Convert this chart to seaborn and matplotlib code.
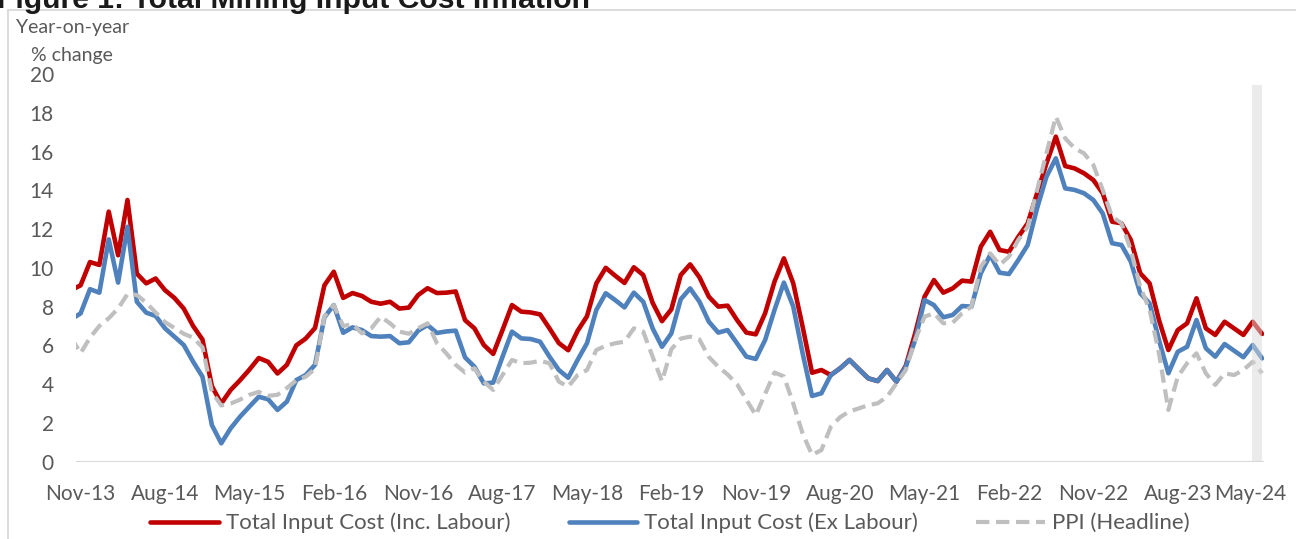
import numpy as np
import pandas as pd
import matplotlib
matplotlib.use("Agg")
import matplotlib.pyplot as plt
import matplotlib.transforms as mtransforms
from matplotlib.patches import Rectangle
import seaborn as sns

# ---------------- data (monthly, Oct-13 .. May-24) ----------------
months = pd.date_range("2013-10-01", periods=128, freq="MS")
tick_labels = ["Nov-13", "Aug-14", "May-15", "Feb-16", "Nov-16", "Aug-17", "May-18",
               "Feb-19", "Nov-19", "Aug-20", "May-21", "Feb-22", "Nov-22", "Aug-23", "May-24"]

inc_labour = [8.85, 9.1, 10.3, 10.15, 12.9, 10.65, 13.5, 9.7, 9.2, 9.45,
              8.85, 8.45, 7.9, 7.0, 6.3, 3.9, 3.0, 3.7, 4.2, 4.75,
              5.35, 5.15, 4.55, 5.0, 6.0, 6.35, 6.9, 9.1, 9.8, 8.45,
              8.7, 8.55, 8.25, 8.15, 8.25, 7.9, 7.95, 8.6, 8.95, 8.7,
              8.72, 8.78, 7.3, 6.88, 6.02, 5.56, 6.8, 8.08, 7.74, 7.7,
              7.6, 6.88, 6.12, 5.75, 6.75, 7.5, 9.2, 10.0, 9.6, 9.22,
              10.03, 9.63, 8.2, 7.25, 7.86, 9.63, 10.18, 9.51, 8.51, 8.0,
              8.05, 7.31, 6.66, 6.57, 7.66, 9.29, 10.49, 9.2, 6.96, 4.59,
              4.73, 4.47, 4.82, 5.25, 4.77, 4.3, 4.16, 4.73, 4.13, 4.95,
              6.62, 8.51, 9.37, 8.72, 8.94, 9.34, 9.29, 11.09, 11.86, 10.92,
              10.83, 11.6, 12.3, 13.85, 15.39, 16.77, 15.25, 15.13, 14.88, 14.53,
              13.85, 12.38, 12.3, 11.44, 9.72, 9.2, 7.31, 5.76, 6.79, 7.14,
              8.43, 6.88, 6.54, 7.22, 6.88, 6.54, 7.22, 6.59]

ex_labour = [7.35, 7.65, 8.9, 8.72, 11.47, 9.24, 12.12, 8.25, 7.69, 7.52,
             6.88, 6.45, 6.02, 5.16, 4.38, 1.89, 0.95, 1.72, 2.32, 2.84,
             3.35, 3.22, 2.67, 3.1, 4.21, 4.47, 5.0, 7.45, 8.08, 6.65,
             6.93, 6.79, 6.48, 6.45, 6.48, 6.11, 6.16, 6.76, 7.05, 6.64,
             6.72, 6.76, 5.38, 4.9, 4.04, 4.08, 5.42, 6.71, 6.36, 6.33,
             6.19, 5.42, 4.73, 4.33, 5.25, 6.11, 7.83, 8.69, 8.34, 7.96,
             8.72, 8.25, 6.88, 5.93, 6.62, 8.38, 8.94, 8.25, 7.22, 6.66,
             6.79, 6.11, 5.42, 5.3, 6.28, 7.83, 9.24, 8.0, 5.59, 3.39,
             3.53, 4.47, 4.82, 5.25, 4.77, 4.3, 4.16, 4.73, 4.13, 4.9,
             6.28, 8.34, 8.08, 7.45, 7.57, 8.03, 8.0, 9.72, 10.66, 9.75,
             9.68, 10.4, 11.18, 13.07, 14.7, 15.65, 14.1, 14.02, 13.85, 13.5,
             12.81, 11.27, 11.18, 10.32, 8.69, 8.17, 6.28, 4.56, 5.67, 5.93,
             7.31, 5.85, 5.42, 6.07, 5.73, 5.39, 6.02, 5.33]

ppi = [6.4, 5.6, 6.4, 7.0, 7.4, 7.9, 8.65, 8.6, 8.2, 7.7,
       7.2, 6.9, 6.6, 6.4, 5.9, 3.6, 2.9, 3.0, 3.2, 3.45,
       3.6, 3.4, 3.45, 3.8, 4.2, 4.38, 4.8, 7.5, 8.08, 7.0,
       7.1, 6.62, 6.88, 7.48, 7.14, 6.71, 6.6, 6.88, 7.14, 6.11,
       5.59, 5.0, 4.6, 4.82, 4.13, 3.7, 4.47, 5.25, 5.08, 5.11,
       5.2, 5.08, 4.13, 3.87, 4.47, 4.73, 5.76, 5.98, 6.11, 6.19,
       6.88, 6.71, 5.42, 4.15, 5.8, 6.35, 6.45, 6.3, 5.4, 4.9,
       4.5, 4.0, 3.2, 2.4, 3.5, 4.6, 4.4, 3.0, 1.45, 0.35,
       0.6, 1.8, 2.3, 2.6, 2.75, 2.92, 3.01, 3.35, 4.04, 4.73,
       6.28, 7.48, 7.66, 7.14, 7.17, 7.66, 8.0, 10.06, 10.75, 10.15,
       10.58, 11.44, 12.12, 14.02, 15.91, 17.8, 16.68, 16.17, 15.91, 15.31,
       14.02, 12.64, 12.3, 10.92, 9.03, 7.83, 5.59, 2.67, 4.38, 5.08,
       5.59, 4.56, 3.96, 4.56, 4.47, 4.73, 5.16, 4.56]

names = ["Total Input Cost (Inc. Labour)", "Total Input Cost (Ex Labour)", "PPI (Headline)"]
colors = ["#C00000", "#4F81BD", "#BFBFBF"]

# month index: Nov-13 = 0
idx = np.arange(len(months)) - 1
df = pd.DataFrame({"idx": idx, names[0]: inc_labour, names[1]: ex_labour, names[2]: ppi})

# ---------------- figure ----------------
sns.set_theme(style="white")
plt.rcParams["font.family"] = ["Lato", "DejaVu Sans"]
TXT = "#595959"

W, H = 1296, 539
fig = plt.figure(figsize=(W / 100, H / 100), dpi=100)
ax = fig.add_axes([76 / W, 1 - 461.7 / H, (1264 - 76) / W, (461.7 - 74) / H])

sns.lineplot(data=df, x="idx", y=names[0], color=colors[0], linewidth=3.3,
             ax=ax, legend=False, zorder=3)
sns.lineplot(data=df, x="idx", y=names[1], color=colors[1], linewidth=3.3,
             ax=ax, legend=False, zorder=4)
sns.lineplot(data=df, x="idx", y=names[2], color=colors[2], linewidth=3.0,
             ax=ax, legend=False, zorder=5)
handles = list(ax.lines[:3])
handles[2].set_dashes((3.2, 1.6))
for h in handles:
    h.set_solid_capstyle("round")
    h.set_solid_joinstyle("round")
    h.set_dash_capstyle("butt")

# latest-month shading
ax.add_patch(Rectangle((124.9, 0), 1.1, 19.43, facecolor="#D9D9D9", alpha=0.5,
                       edgecolor="none", zorder=6))

ax.axhline(0, color="#D9D9D9", lw=1.5, zorder=1)
ax.set_xlim(-0.49, 126.2)
ax.set_ylim(0, 20)
ax.set_yticks(range(0, 21, 2))
ax.set_xticks(range(0, 127, 9))
ax.set_xticklabels(tick_labels)
ax.set_xlabel("")
ax.set_ylabel("")
for s in ax.spines.values():
    s.set_visible(False)
ax.tick_params(axis="both", length=0, labelsize=15, labelcolor=TXT)
ax.tick_params(axis="y", pad=16)
ax.tick_params(axis="x", pad=16)
ax.grid(False)

last = ax.get_xticklabels()[-1]
last.set_transform(last.get_transform() +
                   mtransforms.ScaledTranslation(-12 / 100, 0, fig.dpi_scale_trans))

# axis title
fig.text(16 / W, 1 - 28 / H, "Year-on-year", ha="left", va="center", fontsize=14, color=TXT)
fig.text(31 / W, 1 - 55 / H, "% change", ha="left", va="center", fontsize=14, color=TXT)

# cropped figure title
fig.text(-0.002, 1 - 7.5 / H, "Figure 1: Total Mining Input Cost Inflation", ha="left",
         va="baseline", fontsize=21.7, fontweight="bold", color="#1A1A1A",
         family=["Liberation Sans", "DejaVu Sans"])

# chart-area border
fig.add_artist(Rectangle((8 / W, -0.2), 1.5, 1.2 - 10 / H, transform=fig.transFigure,
                         fill=False, edgecolor="#D9D9D9", lw=1.3, clip_on=False))

leg = ax.legend(handles, names, loc="center", ncol=3, frameon=False,
                bbox_to_anchor=(670 / W, 1 - 523 / H), bbox_transform=fig.transFigure,
                handlelength=3.1, handletextpad=0.32, columnspacing=2.6, fontsize=16)
for t in leg.get_texts():
    t.set_color(TXT)

fig.savefig("out.png", dpi=100)
